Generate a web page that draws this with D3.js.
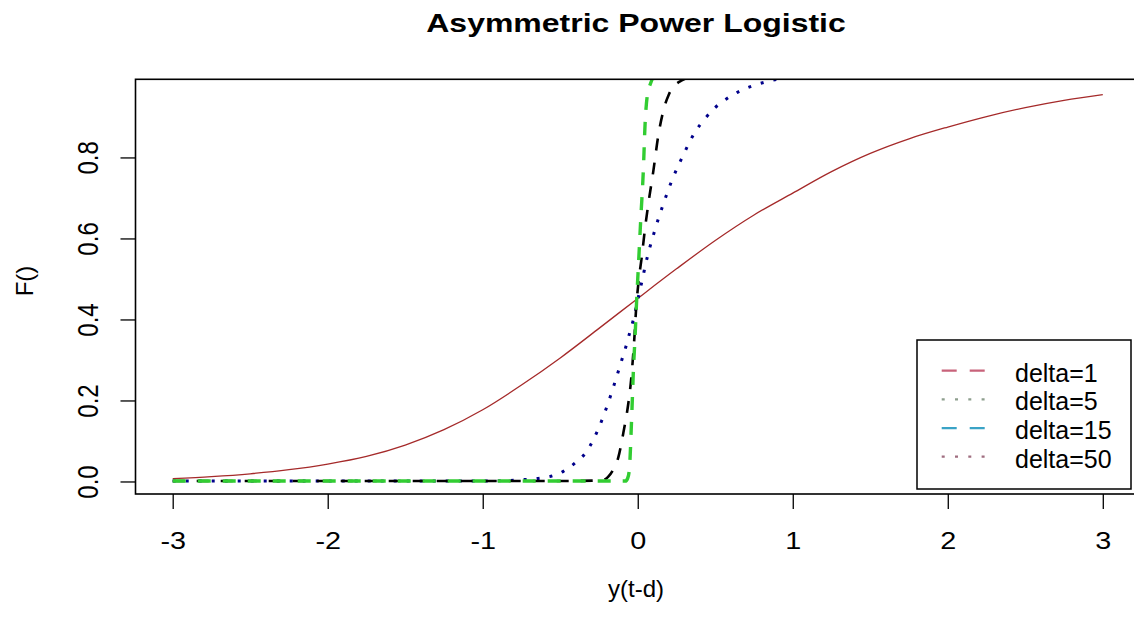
<!DOCTYPE html>
<html>
<head>
<meta charset="utf-8">
<script src="https://cdn.jsdelivr.net/npm/d3@7"></script>
<style>
  body { margin: 0; background: #fff; }
  svg { display: block; }
  text { font-family: "Liberation Sans", Arial, sans-serif; fill: #000; }
</style>
</head>
<body>
<svg id="chart"></svg>
<script>
// values
const xTicks = [-3, -2, -1, 0, 1, 2, 3];
const yTicks = [0, 0.2, 0.4, 0.6, 0.8];

const redX = [-3, -2.75, -2.5, -2.25, -2, -1.75, -1.5, -1.25, -1, -0.75, -0.5, -0.25, 0, 0.25, 0.5, 0.75, 1, 1.25, 1.5, 1.75, 2, 2.25, 2.5, 2.75, 3];
const redY = [0.007, 0.012, 0.019, 0.029, 0.043, 0.062, 0.09, 0.128, 0.177, 0.238, 0.305, 0.378, 0.452, 0.525, 0.595, 0.658, 0.712, 0.765, 0.81, 0.846, 0.875, 0.901, 0.923, 0.941, 0.955];

const blueX = [-3, -1, -0.76, -0.57, -0.48, -0.4, -0.33, -0.254, -0.19, -0.135, -0.103, -0.071, -0.05, -0.028, 0.004, 0.036, 0.047, 0.11, 0.165, 0.219, 0.294, 0.37, 0.434, 0.499, 0.574, 0.66, 0.735, 0.82, 0.9, 1, 1.5, 3];
const blueY = [0.001, 0.001, 0.004, 0.012, 0.025, 0.047, 0.074, 0.13, 0.195, 0.26, 0.3, 0.34, 0.37, 0.4, 0.455, 0.51, 0.53, 0.62, 0.685, 0.742, 0.806, 0.863, 0.896, 0.923, 0.945, 0.964, 0.976, 0.986, 0.993, 0.997, 1, 1];

const blackX = [-3, -0.5, -0.23, -0.19, -0.157, -0.125, -0.093, -0.06, -0.043, -0.03, -0.02, -0.01, 0.004, 0.026, 0.047, 0.07, 0.1, 0.133, 0.165, 0.2, 0.23, 0.284, 0.35, 1, 3];
const blackY = [0.001, 0.001, 0.003, 0.012, 0.03, 0.06, 0.12, 0.195, 0.25, 0.31, 0.365, 0.43, 0.489, 0.555, 0.625, 0.69, 0.765, 0.855, 0.915, 0.955, 0.974, 0.99, 0.998, 1, 1];

const greenX = [-3, -0.08, -0.065, -0.054, -0.04, -0.028, -0.017, -0.007, 0.004, 0.019, 0.036, 0.047, 0.062, 0.08, 0.1, 0.3, 3];
const greenY = [0.001, 0.001, 0.008, 0.03, 0.15, 0.275, 0.36, 0.448, 0.53, 0.645, 0.768, 0.88, 0.954, 0.98, 0.995, 1, 1];

const legendLabels = ["delta=1", "delta=5", "delta=15", "delta=50"];

// styles
const legendColors = ["#c8627a", "#8e9f8e", "#3aa3c6", "#a06e80"];
const legendDash = ["15,13", "3,10.3", "15,13", "3,10.3"];

const width = 1134, height = 617;
const plot = {left: 135.5, right: 1140, top: 79.3, bottom: 494};

const svg = d3.select("#chart")
  .attr("width", width)
  .attr("height", height)
  .attr("viewBox", [0, 0, width, height]);

// R style 4% range extension
const xr = d3.extent(redX), yr = d3.extent(redY);
const xPad = (xr[1] - xr[0]) * 0.04, yPad = (yr[1] - yr[0]) * 0.04;
const x = d3.scaleLinear([xr[0] - xPad, xr[1] + xPad], [plot.left, plot.right]);
const y = d3.scaleLinear([yr[0] - yPad, yr[1] + yPad], [plot.bottom, plot.top]);

svg.append("defs").append("clipPath").attr("id", "clip")
  .append("rect")
  .attr("x", plot.left).attr("y", plot.top)
  .attr("width", plot.right - plot.left).attr("height", plot.bottom - plot.top);

const line = d3.line()
  .x(d => x(d[0]))
  .y(d => y(d[1]))
  .curve(d3.curveMonotoneX);

const series = [
  {xs: redX, ys: redY, color: "#a52a2a", width: 1.3, dash: null},
  {xs: blueX, ys: blueY, color: "#00008b", width: 3, dash: "3,10"},
  {xs: blackX, ys: blackY, color: "#000", width: 2.6, dash: "12,12"},
  {xs: greenX, ys: greenY, color: "#32cd32", width: 3.4, dash: "13,12"}
];

const lines = svg.append("g").attr("clip-path", "url(#clip)");
series.forEach(s => {
  lines.append("path")
    .datum(s.xs.map((v, i) => [v, s.ys[i]]))
    .attr("d", line)
    .attr("fill", "none")
    .attr("stroke", s.color)
    .attr("stroke-width", s.width)
    .attr("stroke-dasharray", s.dash);
});

// axes
const xAxis = svg.append("g")
  .attr("transform", `translate(0,${plot.bottom})`)
  .call(d3.axisBottom(x).tickValues(xTicks).tickSize(15).tickFormat(d => String(d)));
xAxis.select(".domain").remove();
xAxis.selectAll(".tick line").attr("stroke", "#000").attr("stroke-width", 1.3);
xAxis.selectAll(".tick text")
  .attr("y", 0).attr("dy", null)
  .attr("transform", "translate(0,55) scale(1.2,1)")
  .style("font-size", "24px");

const yAxis = svg.append("g")
  .attr("transform", `translate(${plot.left},0)`)
  .call(d3.axisLeft(y).tickValues(yTicks).tickSize(15).tickFormat(d => d.toFixed(1)));
yAxis.select(".domain").remove();
yAxis.selectAll(".tick line").attr("stroke", "#000").attr("stroke-width", 1.3);
yAxis.selectAll(".tick text")
  .attr("x", 0).attr("dy", null)
  .attr("text-anchor", "middle")
  .attr("transform", `translate(${98.3 - plot.left},0) scale(1.22,1) rotate(-90)`)
  .style("font-size", "24px");

// box
svg.append("rect")
  .attr("x", plot.left).attr("y", plot.top)
  .attr("width", plot.right - plot.left).attr("height", plot.bottom - plot.top)
  .attr("fill", "none").attr("stroke", "#000").attr("stroke-width", 1.6);

// titles
svg.append("text")
  .attr("transform", "translate(636,32) scale(1.28,1)")
  .attr("text-anchor", "middle")
  .style("font-size", "25px").style("font-weight", "bold")
  .text("Asymmetric Power Logistic");

svg.append("text")
  .attr("transform", "translate(636,597)")
  .attr("text-anchor", "middle")
  .style("font-size", "24px")
  .text("y(t-d)");

svg.append("text")
  .attr("transform", "translate(33,281) rotate(-90)")
  .attr("text-anchor", "middle")
  .style("font-size", "24px")
  .text("F()");

// legend
const legend = svg.append("g");
legend.append("rect")
  .attr("x", 917).attr("y", 340).attr("width", 214).attr("height", 149)
  .attr("fill", "#fff").attr("stroke", "#000").attr("stroke-width", 1.5);

const rowY = d3.scalePoint().domain(legendLabels).range([370.7, 456.7]);
legendLabels.forEach((label, i) => {
  legend.append("line")
    .attr("x1", 941.7).attr("x2", 986)
    .attr("y1", rowY(label)).attr("y2", rowY(label))
    .attr("stroke", legendColors[i]).attr("stroke-width", 2.2)
    .attr("stroke-dasharray", legendDash[i]);
  legend.append("text")
    .attr("x", 1015).attr("y", rowY(label) + 11)
    .style("font-size", "25px")
    .text(label);
});
</script>
</body>
</html>
